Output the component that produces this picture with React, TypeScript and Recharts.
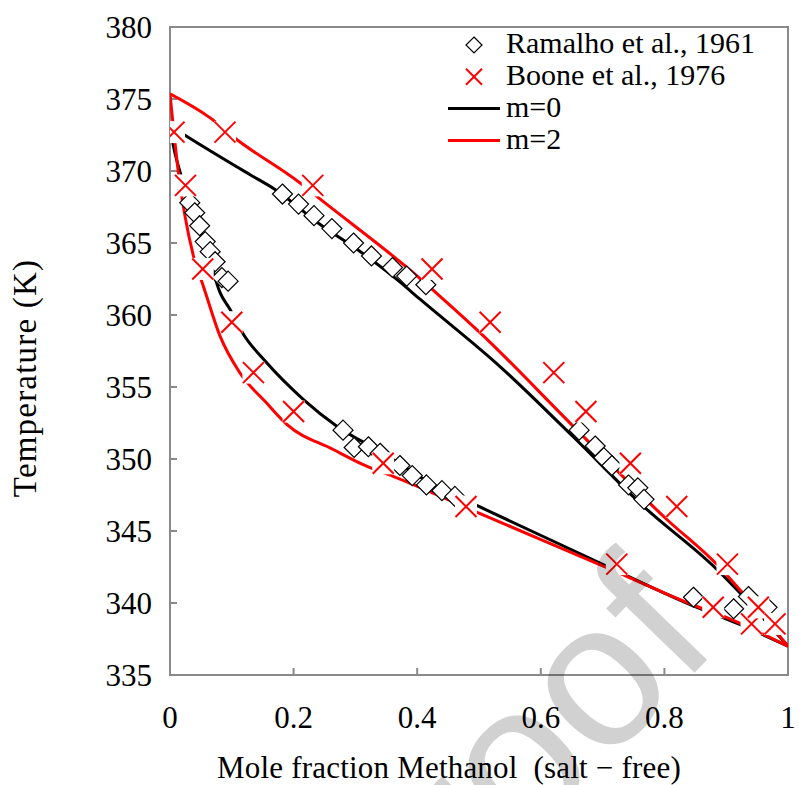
import React from 'react';
import { ComposedChart, Scatter, XAxis, YAxis, ReferenceArea, Legend } from 'recharts';

const FONT = '"Liberation Serif", "Times New Roman", serif';
const AXIS_GRAY = '#8a8a8a';

const xTicks = [0, 0.2, 0.4, 0.6, 0.8, 1];
const yTicks = [335, 340, 345, 350, 355, 360, 365, 370, 375, 380];

// Ramalho et al., 1961 (diamonds)
const ramalhoX = [
  0.032, 0.040, 0.048, 0.057, 0.065, 0.073, 0.084, 0.094,
  0.182, 0.208, 0.233, 0.262, 0.297, 0.326, 0.360, 0.383, 0.414,
  0.280, 0.298, 0.321, 0.340, 0.372, 0.392, 0.415, 0.440, 0.461,
  0.662, 0.688, 0.702, 0.715, 0.742, 0.757, 0.767,
  0.847, 0.912, 0.936, 0.966,
];
const ramalhoT = [
  367.8, 367.1, 366.2, 365.1, 364.4, 363.7, 362.6, 362.35,
  368.4, 367.7, 366.9, 366.0, 365.0, 364.1, 363.3, 362.7, 362.1,
  352.0, 350.8, 350.85, 350.4, 349.55, 348.85, 348.2, 347.8, 347.4,
  352.0, 350.9, 350.1, 349.55, 348.2, 348.0, 347.2,
  340.4, 339.6, 340.45, 339.7,
];

// Boone et al., 1976 (crosses): liquid and vapour compositions at each temperature
const booneT = [372.7, 369.0, 363.2, 359.5, 356.0, 353.3, 349.7, 346.7, 342.7, 339.7, 338.55];
const booneLiquidX = [0.0065, 0.025, 0.053, 0.100, 0.135, 0.200, 0.345, 0.479, 0.723, 0.879, 0.941];
const booneVaporX = [0.089, 0.231, 0.424, 0.518, 0.621, 0.673, 0.745, 0.820, 0.902, 0.952, 0.979];

// Model m=0
const m0LiquidX = [0, 0.005, 0.016, 0.032, 0.057, 0.081, 0.097, 0.119, 0.154, 0.216, 0.27, 0.34, 0.44, 0.499, 0.701, 0.836, 0.922, 1.0];
const m0LiquidT = [373.15, 371.84, 369.97, 367.67, 364.9, 361.56, 360.4, 358.65, 356.8, 354.13, 352.28, 350.52, 347.88, 346.72, 342.67, 340.0, 338.51, 337.0];
const m0VaporX = [0, 0.0275, 0.129, 0.170, 0.243, 0.307, 0.367, 0.405, 0.534, 0.652, 0.766, 0.885, 0.922, 1.0];
const m0VaporT = [373.15, 372.4, 369.76, 368.72, 366.28, 364.43, 362.47, 361.08, 356.42, 351.56, 346.72, 342.33, 340.71, 337.0];

// Model m=2
const m2LiquidX = [0, 0.013, 0.038, 0.054, 0.081, 0.113, 0.156, 0.189, 0.264, 0.318, 0.361, 0.499, 0.701, 0.858, 0.9, 0.957, 1.0];
const m2LiquidT = [375.36, 370.1, 364.08, 362.0, 358.53, 355.99, 353.9, 352.4, 350.66, 349.5, 348.8, 346.26, 342.56, 339.67, 339.0, 337.9, 337.0];
const m2VaporX = [0, 0.065, 0.108, 0.21, 0.237, 0.4, 0.437, 0.502, 0.647, 0.804, 0.885, 0.917, 1.0];
const m2VaporT = [375.36, 373.69, 372.19, 369.18, 368.25, 362.7, 361.3, 358.76, 352.51, 345.8, 342.67, 341.17, 337.0];

const zip = (xs: number[], ts: number[]) => xs.map((x, i) => ({ x, T: ts[i] }));

const ramalhoData = zip(ramalhoX, ramalhoT);
const booneData = [...zip(booneLiquidX, booneT), ...zip(booneVaporX, booneT)];
const m0Liquid = zip(m0LiquidX, m0LiquidT);
const m0Vapor = zip(m0VaporX, m0VaporT);
const m2Liquid = zip(m2LiquidX, m2LiquidT);
const m2Vapor = zip(m2VaporX, m2VaporT);

const NoShape = () => <g />;

const DiamondShape = (props: any) => {
  const { cx, cy } = props;
  if (cx == null || cy == null) return <g />;
  const r = 10;
  return (
    <polygon
      points={`${cx},${cy - r} ${cx + r},${cy} ${cx},${cy + r} ${cx - r},${cy}`}
      fill="#fff"
      stroke="#000"
      strokeWidth={1.2}
    />
  );
};

const CrossShape = (props: any) => {
  const { cx, cy } = props;
  if (cx == null || cy == null) return <g />;
  const r = 10.5;
  return (
    <g>
      <rect x={cx - 11} y={cy - 11} width={22} height={22} fill="#fff" />
      <line x1={cx - r} y1={cy - r} x2={cx + r} y2={cy + r} stroke="#ff0000" strokeWidth={2} />
      <line x1={cx - r} y1={cy + r} x2={cx + r} y2={cy - r} stroke="#ff0000" strokeWidth={2} />
    </g>
  );
};

const legendItems = [
  { kind: 'diamond', label: 'Ramalho et al., 1961' },
  { kind: 'cross', label: 'Boone et al., 1976' },
  { kind: 'black', label: 'm=0' },
  { kind: 'red', label: 'm=2' },
];

const renderLegend = () => (
  <svg width={345} height={135} style={{ overflow: 'visible' }}>
    {legendItems.map((it, i) => {
      const my = 17 + i * 31.8;
      const ty = 25 + i * 32;
      let marker: React.ReactNode = null;
      if (it.kind === 'diamond') {
        const r = 8;
        marker = <polygon points={`34,${my - r} ${34 + r},${my} 34,${my + r} ${34 - r},${my}`} fill="#fff" stroke="#000" strokeWidth={1.2} />;
      } else if (it.kind === 'cross') {
        const r = 8;
        marker = (
          <g>
            <line x1={34 - r} y1={my - r} x2={34 + r} y2={my + r} stroke="#ff0000" strokeWidth={2} />
            <line x1={34 - r} y1={my + r} x2={34 + r} y2={my - r} stroke="#ff0000" strokeWidth={2} />
          </g>
        );
      } else {
        marker = <line x1={8} y1={my} x2={60} y2={my} stroke={it.kind === 'black' ? '#000' : '#ff0000'} strokeWidth={3} />;
      }
      return (
        <g key={it.label}>
          {marker}
          <text x={66} y={ty} fontFamily={FONT} fontSize={30} fill="#000">{it.label}</text>
        </g>
      );
    })}
  </svg>
);

const XTitle = (props: any) => {
  const vb = props.viewBox || { x: 170, y: 675, width: 618, height: 110 };
  return (
    <text x={vb.x + vb.width / 2 - 30} y={vb.y + vb.height - 7} textAnchor="middle" fontFamily={FONT} fontSize={31} letterSpacing={0.2} fill="#000">
      {'Mole fraction Methanol\u00a0 (salt \u2212 free)'}
    </text>
  );
};

const YTitle = (props: any) => {
  const vb = props.viewBox || { x: 0, y: 27, width: 170, height: 648 };
  const cx = vb.x + 25;
  const cy = vb.y + vb.height / 2 + 27;
  return (
    <text x={cx} y={cy} transform={`rotate(-90, ${cx}, ${cy})`} textAnchor="middle" dominantBaseline="central" fontFamily={FONT} fontSize={33} letterSpacing={1.2} fill="#000">
      Temperature (K)
    </text>
  );
};

export default function App() {
  return (
    <div style={{ position: 'absolute', left: 0, top: 0, width: 799, height: 785, background: '#fff' }}>
      <ComposedChart width={799} height={785} margin={{ top: 27, right: 11, bottom: 0, left: 0 }}>
        <XAxis
          type="number"
          dataKey="x"
          domain={[0, 1]}
          ticks={xTicks}
          interval={0}
          allowDataOverflow
          height={110}
          tickSize={-7}
          tickMargin={38}
          tick={{ fill: '#000', fontSize: 31, fontFamily: FONT }}
          axisLine={{ stroke: AXIS_GRAY, strokeWidth: 2 }}
          tickLine={{ stroke: AXIS_GRAY, strokeWidth: 2 }}
          label={XTitle}
        />
        <YAxis
          type="number"
          dataKey="T"
          domain={[335, 380]}
          ticks={yTicks}
          interval={0}
          allowDataOverflow
          width={170}
          tickSize={-7}
          tickMargin={25}
          tick={{ fill: '#000', fontSize: 31, fontFamily: FONT }}
          axisLine={{ stroke: AXIS_GRAY, strokeWidth: 2 }}
          tickLine={{ stroke: AXIS_GRAY, strokeWidth: 2 }}
          label={YTitle}
        />
        <ReferenceArea x1={0} x2={1} y1={335} y2={380} fill="none" stroke={AXIS_GRAY} strokeWidth={2} />
        <Legend
          layout="vertical"
          align="center"
          verticalAlign="middle"
          content={renderLegend}
          wrapperStyle={{ position: 'absolute', top: 28, left: 440, width: 345, height: 135, overflow: 'visible' }}
        />
        <Scatter data={m0Liquid} line={{ stroke: '#000', strokeWidth: 3 }} lineType="joint" lineJointType="monotoneX" shape={NoShape} isAnimationActive={false} legendType="none" />
        <Scatter data={m0Vapor} line={{ stroke: '#000', strokeWidth: 3 }} lineType="joint" lineJointType="monotoneX" shape={NoShape} isAnimationActive={false} legendType="none" />
        <Scatter data={m2Liquid} line={{ stroke: '#ff0000', strokeWidth: 3 }} lineType="joint" lineJointType="monotoneX" shape={NoShape} isAnimationActive={false} legendType="none" />
        <Scatter data={m2Vapor} line={{ stroke: '#ff0000', strokeWidth: 3 }} lineType="joint" lineJointType="monotoneX" shape={NoShape} isAnimationActive={false} legendType="none" />
        <Scatter data={ramalhoData} shape={DiamondShape} isAnimationActive={false} />
        <Scatter data={booneData} shape={CrossShape} isAnimationActive={false} />
      </ComposedChart>
      <svg width={799} height={785} style={{ position: 'absolute', left: 0, top: 0, pointerEvents: 'none' }}>
        <text
          x={397}
          y={981}
          transform="rotate(-46, 397, 981)"
          fontFamily='"Liberation Sans", Arial, sans-serif'
          fontSize={205}
          fill="#000"
          fillOpacity={0.18}
        >
          proof
        </text>
      </svg>
    </div>
  );
}
